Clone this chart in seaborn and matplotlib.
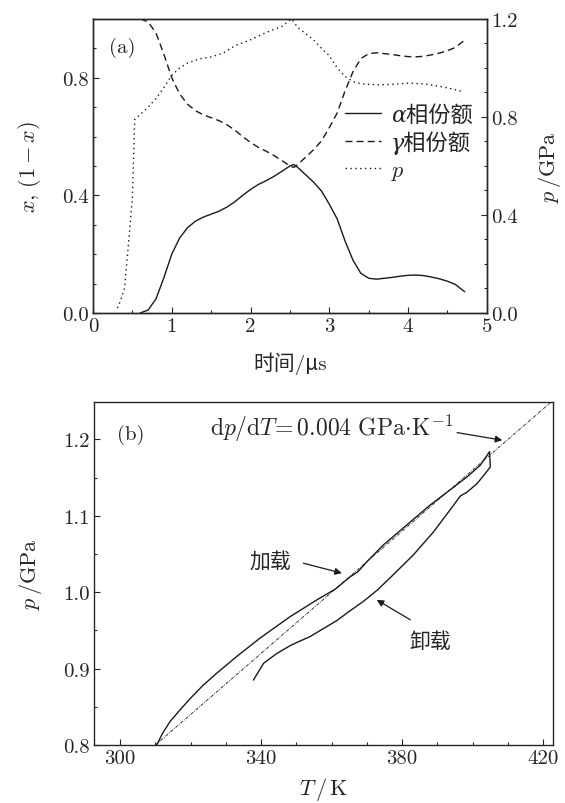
import matplotlib
matplotlib.use('Agg')
import matplotlib.pyplot as plt
import seaborn as sns
import pandas as pd
from matplotlib.ticker import MultipleLocator, FixedLocator, FormatStrFormatter
from matplotlib.font_manager import FontProperties

# ---- panel (a): phase fractions and pressure vs time ----
t_alpha = [0.60, 0.70, 0.80, 0.90, 1.00, 1.10, 1.20, 1.30, 1.40, 1.50, 1.60, 1.70,
           1.80, 1.90, 2.00, 2.10, 2.20, 2.30, 2.40, 2.50, 2.55, 2.60, 2.70, 2.80,
           2.90, 3.00, 3.10, 3.20, 3.30, 3.40, 3.50, 3.60, 3.70, 3.80, 3.90, 4.00,
           4.10, 4.20, 4.30, 4.40, 4.50, 4.60, 4.72]
alpha = [0.0, 0.01, 0.048, 0.12, 0.20, 0.255, 0.29, 0.312, 0.326, 0.336, 0.346, 0.360,
         0.378, 0.40, 0.42, 0.437, 0.45, 0.465, 0.482, 0.50, 0.505, 0.495, 0.47, 0.445,
         0.415, 0.37, 0.32, 0.245, 0.18, 0.135, 0.118, 0.115, 0.118, 0.121, 0.125, 0.128,
         0.129, 0.127, 0.122, 0.116, 0.108, 0.097, 0.072]
gamma = [1.0, 0.99, 0.952, 0.88, 0.80, 0.745, 0.71, 0.688, 0.674, 0.664, 0.654, 0.640,
         0.622, 0.60, 0.58, 0.563, 0.55, 0.535, 0.518, 0.50, 0.495, 0.505, 0.53, 0.555,
         0.585, 0.63, 0.68, 0.755, 0.82, 0.865, 0.882, 0.885, 0.882, 0.879, 0.875, 0.872,
         0.871, 0.873, 0.878, 0.884, 0.892, 0.903, 0.928]

t_p = [0.31, 0.35, 0.40, 0.45, 0.50, 0.53, 0.60, 0.70, 0.80, 0.90, 1.00, 1.10, 1.20,
       1.35, 1.50, 1.65, 1.80, 2.00, 2.20, 2.40, 2.52, 2.60, 2.70, 2.80, 2.90, 3.00,
       3.10, 3.20, 3.30, 3.40, 3.60, 3.80, 4.00, 4.20, 4.40, 4.55, 4.70]
pressure = [0.02, 0.05, 0.10, 0.28, 0.47, 0.79, 0.81, 0.84, 0.875, 0.92, 0.97, 1.0, 1.02,
            1.037, 1.045, 1.06, 1.09, 1.115, 1.145, 1.17, 1.2, 1.165, 1.14, 1.115, 1.08, 1.05,
            1.0, 0.965, 0.945, 0.935, 0.931, 0.933, 0.938, 0.935, 0.925, 0.915, 0.903]
legend_labels = ['α相份额', 'γ相份额', r'$p$']

# ---- panel (b): p-T loop ----
loop_T = [310.4, 312.0, 314.2, 317.0, 319.9, 323.5, 327.4, 333.1, 339.7, 348.2, 355.8,
          361.0, 365.2, 367.5, 370.0, 374.7, 381.3, 387.9, 393.6, 398.4, 402.1, 404.8,
          405.0, 403.5, 401.2, 398.4, 396.5, 394.6, 388.9, 383.2, 377.5, 373.0, 369.0,
          365.0, 361.5, 357.5, 353.9, 350.0, 348.2, 344.5, 340.7, 337.8]
loop_p = [0.800, 0.815, 0.831, 0.846, 0.861, 0.878, 0.894, 0.916, 0.940, 0.968, 0.990,
          1.004, 1.020, 1.027, 1.040, 1.062, 1.088, 1.114, 1.134, 1.151, 1.166, 1.184,
          1.164, 1.155, 1.142, 1.131, 1.126, 1.114, 1.079, 1.049, 1.023, 1.003, 0.988,
          0.975, 0.963, 0.952, 0.942, 0.934, 0.930, 0.920, 0.907, 0.885]
slope_T = [310.0, 422.5]
slope_p = [0.80, 1.25]
T_ticks = [300, 340, 380, 420]

sns.set_theme(style='ticks')
plt.rcParams['font.family'] = ['cmr10', 'Noto Sans CJK SC', 'DejaVu Sans']
plt.rcParams['mathtext.fontset'] = 'cm'
plt.rcParams['axes.unicode_minus'] = False
plt.rcParams['axes.formatter.use_mathtext'] = True
plt.rcParams['font.size'] = 15
plt.rcParams['axes.linewidth'] = 1.0
plt.rcParams['xtick.direction'] = 'in'
plt.rcParams['ytick.direction'] = 'in'

fig = plt.figure(figsize=(5.65, 8.04), dpi=100)

# ---------------- (a) ----------------
ax1 = fig.add_axes([0.1646, 0.6095, 0.697, 0.3657])
ax2 = ax1.twinx()
df_a = pd.DataFrame({'t': t_alpha, 'alpha': alpha, 'gamma': gamma})
df_p = pd.DataFrame({'t': t_p, 'p': pressure})
sns.lineplot(data=df_a, x='t', y='alpha', ax=ax1, color='k', lw=1.0, sort=False,
             estimator=None, legend=False)
sns.lineplot(data=df_a, x='t', y='gamma', ax=ax1, color='k', lw=1.0, sort=False,
             estimator=None, legend=False)
ax1.get_lines()[1].set_dashes((5, 3))
sns.lineplot(data=df_p, x='t', y='p', ax=ax2, color='k', lw=1.0, sort=False,
             estimator=None, legend=False)
ax2.get_lines()[0].set_dashes((1, 2.5))

ax1.set_xlim(0, 5)
ax1.set_ylim(0, 1.0)
ax2.set_ylim(0, 1.2)
ax1.xaxis.set_major_locator(MultipleLocator(1))
ax1.xaxis.set_minor_locator(MultipleLocator(0.5))
ax1.yaxis.set_major_locator(MultipleLocator(0.4))
ax1.yaxis.set_minor_locator(MultipleLocator(0.1))
ax2.yaxis.set_major_locator(MultipleLocator(0.4))
ax2.yaxis.set_minor_locator(MultipleLocator(0.1))
ax1.xaxis.set_major_formatter(FormatStrFormatter('%d'))
ax1.yaxis.set_major_formatter(FormatStrFormatter('%.1f'))
ax2.yaxis.set_major_formatter(FormatStrFormatter('%.1f'))
for a in (ax1, ax2):
    a.tick_params(which='major', length=4, width=0.8, labelsize=15, pad=3)
    a.tick_params(which='minor', length=2.5, width=0.8)
ax1.tick_params(top=False, right=False, which='both')
ax1.set_xlabel('时间/μs', fontsize=15, labelpad=12)
ax1.set_ylabel(r'$x,\,(1-x)$', fontsize=16, labelpad=14)
ax2.set_ylabel(r'$p\,/\mathrm{GPa}$', fontsize=16, labelpad=13)
ax1.text(0.04, 0.905, '(a)', transform=ax1.transAxes, fontsize=15, va='center')

handles = ax1.get_lines() + ax2.get_lines()
leg_font = FontProperties(family=['DejaVu Serif', 'Noto Sans CJK SC'], style='italic',
                          size=16)
ax2.legend(handles=handles, labels=legend_labels, loc='upper left',
           bbox_to_anchor=(0.64, 0.71), frameon=False, prop=leg_font, handlelength=1.6,
           handletextpad=0.45, labelspacing=0.2, borderpad=0, borderaxespad=0)

# ---------------- (b) ----------------
ax3 = fig.add_axes([0.1664, 0.0721, 0.8124, 0.4266])
df_loop = pd.DataFrame({'T': loop_T, 'p': loop_p})
df_line = pd.DataFrame({'T': slope_T, 'p': slope_p})
sns.lineplot(data=df_line, x='T', y='p', ax=ax3, color='k', lw=0.6, sort=False,
             estimator=None)
ax3.get_lines()[0].set_dashes((4, 1.5, 1, 1.5))
sns.lineplot(data=df_loop, x='T', y='p', ax=ax3, color='k', lw=1.0, sort=False,
             estimator=None)

ax3.set_xlim(292.6, 422.8)
ax3.set_ylim(0.8, 1.249)
ax3.xaxis.set_major_locator(FixedLocator(T_ticks))
ax3.xaxis.set_minor_locator(MultipleLocator(10))
ax3.yaxis.set_major_locator(MultipleLocator(0.1))
ax3.yaxis.set_minor_locator(MultipleLocator(0.05))
ax3.xaxis.set_major_formatter(FormatStrFormatter('%d'))
ax3.yaxis.set_major_formatter(FormatStrFormatter('%.1f'))
ax3.tick_params(which='major', length=4, width=0.8, labelsize=15, pad=3)
ax3.tick_params(which='minor', length=2.5, width=0.8)
ax3.tick_params(top=False, right=False, which='both')
ax3.set_xlabel(r'$T\,/\,\mathrm{K}$', fontsize=16, labelpad=6)
ax3.set_ylabel(r'$p\,/\mathrm{GPa}$', fontsize=16, labelpad=14)
ax3.text(0.05, 0.907, '(b)', transform=ax3.transAxes, fontsize=15, va='center')

arrow = dict(arrowstyle='-|>', color='k', lw=0.9, mutation_scale=10, shrinkA=0, shrinkB=0)
ax3.annotate('', xy=(408.4, 1.199), xytext=(395.6, 1.209), arrowprops=arrow)
ax3.text(394.5, 1.216, r'$\mathrm{d}p/\mathrm{d}T\!=0.004\ \mathrm{GPa}\!\cdot\!\mathrm{K}^{-1}$',
         fontsize=17, ha='right', va='center')
ax3.annotate('', xy=(362.9, 1.025), xytext=(352.0, 1.038), arrowprops=arrow)
ax3.text(342.6, 1.040, '加载', fontsize=15, ha='center', va='center')
ax3.annotate('', xy=(372.8, 0.990), xytext=(382.3, 0.964), arrowprops=arrow)
ax3.text(387.9, 0.936, '卸载', fontsize=15, ha='center', va='center')

fig.savefig('out.png', dpi=100)
